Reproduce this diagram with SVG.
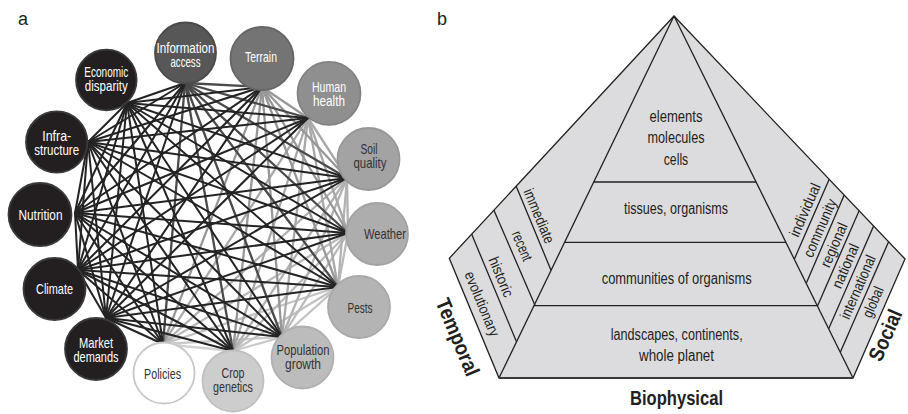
<svg xmlns="http://www.w3.org/2000/svg" width="908" height="414" viewBox="0 0 908 414">
<style>
text{font-family:"Liberation Sans",Arial,sans-serif;}
.pl{font-size:18px;fill:#231f20;}
.nl{font-size:14.5px;text-anchor:middle;}
.w{fill:#ffffff;}
.d{fill:#333333;}
.node{stroke-width:1.8;}
#connectors line{stroke-width:2.3;stroke-linecap:round;}
.c8{stroke:#d2d2d2;}.c7{stroke:#cacaca;}.c6{stroke:#c2c2c2;}.c5{stroke:#bababa;}
.c4{stroke:#b2b2b2;}.c3{stroke:#a8a8a8;}.c2{stroke:#979797;}.c1{stroke:#4a4a4a;}.c0{stroke:#232323;}
#connectors line.c0{stroke-width:2;}
.edge{stroke:#231f20;stroke-width:1.3;fill:none;}
.lab{font-size:15px;fill:#231f20;text-anchor:middle;}
.in{font-size:16px;fill:#231f20;text-anchor:middle;}
.big{font-size:21px;font-weight:bold;fill:#231f20;text-anchor:middle;}
</style>
<rect width="908" height="414" fill="#ffffff"/>
<text class="pl" x="18" y="25">a</text>
<text class="pl" x="437" y="25">b</text>

<g id="connectors">
<line class="c8" x1="233" y1="351" x2="163" y2="344"/>
<line class="c7" x1="282" y1="337" x2="233" y2="351"/>
<line class="c7" x1="282" y1="337" x2="163" y2="344"/>
<line class="c6" x1="338" y1="287" x2="282" y2="337"/>
<line class="c6" x1="338" y1="287" x2="233" y2="351"/>
<line class="c6" x1="338" y1="287" x2="163" y2="344"/>
<line class="c5" x1="348" y1="233" x2="338" y2="287"/>
<line class="c5" x1="348" y1="233" x2="282" y2="337"/>
<line class="c5" x1="348" y1="233" x2="233" y2="351"/>
<line class="c5" x1="348" y1="233" x2="163" y2="344"/>
<line class="c4" x1="347" y1="178" x2="348" y2="233"/>
<line class="c4" x1="347" y1="178" x2="338" y2="287"/>
<line class="c4" x1="347" y1="178" x2="282" y2="337"/>
<line class="c4" x1="347" y1="178" x2="233" y2="351"/>
<line class="c4" x1="347" y1="178" x2="163" y2="344"/>
<line class="c3" x1="308" y1="118" x2="347" y2="178"/>
<line class="c3" x1="308" y1="118" x2="348" y2="233"/>
<line class="c3" x1="308" y1="118" x2="338" y2="287"/>
<line class="c3" x1="308" y1="118" x2="282" y2="337"/>
<line class="c3" x1="308" y1="118" x2="233" y2="351"/>
<line class="c3" x1="308" y1="118" x2="163" y2="344"/>
<line class="c2" x1="262" y1="87" x2="308" y2="118"/>
<line class="c2" x1="262" y1="87" x2="347" y2="178"/>
<line class="c2" x1="262" y1="87" x2="348" y2="233"/>
<line class="c2" x1="262" y1="87" x2="338" y2="287"/>
<line class="c2" x1="262" y1="87" x2="282" y2="337"/>
<line class="c2" x1="262" y1="87" x2="233" y2="351"/>
<line class="c2" x1="262" y1="87" x2="163" y2="344"/>
<line class="c1" x1="185" y1="83" x2="262" y2="87"/>
<line class="c1" x1="185" y1="83" x2="308" y2="118"/>
<line class="c1" x1="185" y1="83" x2="347" y2="178"/>
<line class="c1" x1="185" y1="83" x2="348" y2="233"/>
<line class="c1" x1="185" y1="83" x2="338" y2="287"/>
<line class="c1" x1="185" y1="83" x2="282" y2="337"/>
<line class="c1" x1="185" y1="83" x2="233" y2="351"/>
<line class="c1" x1="185" y1="83" x2="163" y2="344"/>
<line class="c0" x1="106" y1="318" x2="185" y2="83"/>
<line class="c0" x1="106" y1="318" x2="262" y2="87"/>
<line class="c0" x1="106" y1="318" x2="308" y2="118"/>
<line class="c0" x1="106" y1="318" x2="347" y2="178"/>
<line class="c0" x1="106" y1="318" x2="348" y2="233"/>
<line class="c0" x1="106" y1="318" x2="338" y2="287"/>
<line class="c0" x1="106" y1="318" x2="282" y2="337"/>
<line class="c0" x1="106" y1="318" x2="233" y2="351"/>
<line class="c0" x1="106" y1="318" x2="163" y2="344"/>
<line class="c0" x1="106" y1="318" x2="78" y2="270"/>
<line class="c0" x1="106" y1="318" x2="75" y2="213"/>
<line class="c0" x1="106" y1="318" x2="88" y2="142"/>
<line class="c0" x1="106" y1="318" x2="127" y2="103"/>
<line class="c0" x1="78" y1="270" x2="185" y2="83"/>
<line class="c0" x1="78" y1="270" x2="262" y2="87"/>
<line class="c0" x1="78" y1="270" x2="308" y2="118"/>
<line class="c0" x1="78" y1="270" x2="347" y2="178"/>
<line class="c0" x1="78" y1="270" x2="348" y2="233"/>
<line class="c0" x1="78" y1="270" x2="338" y2="287"/>
<line class="c0" x1="78" y1="270" x2="282" y2="337"/>
<line class="c0" x1="78" y1="270" x2="233" y2="351"/>
<line class="c0" x1="78" y1="270" x2="163" y2="344"/>
<line class="c0" x1="78" y1="270" x2="75" y2="213"/>
<line class="c0" x1="78" y1="270" x2="88" y2="142"/>
<line class="c0" x1="78" y1="270" x2="127" y2="103"/>
<line class="c0" x1="75" y1="213" x2="185" y2="83"/>
<line class="c0" x1="75" y1="213" x2="262" y2="87"/>
<line class="c0" x1="75" y1="213" x2="308" y2="118"/>
<line class="c0" x1="75" y1="213" x2="347" y2="178"/>
<line class="c0" x1="75" y1="213" x2="348" y2="233"/>
<line class="c0" x1="75" y1="213" x2="338" y2="287"/>
<line class="c0" x1="75" y1="213" x2="282" y2="337"/>
<line class="c0" x1="75" y1="213" x2="233" y2="351"/>
<line class="c0" x1="75" y1="213" x2="163" y2="344"/>
<line class="c0" x1="75" y1="213" x2="88" y2="142"/>
<line class="c0" x1="75" y1="213" x2="127" y2="103"/>
<line class="c0" x1="88" y1="142" x2="185" y2="83"/>
<line class="c0" x1="88" y1="142" x2="262" y2="87"/>
<line class="c0" x1="88" y1="142" x2="308" y2="118"/>
<line class="c0" x1="88" y1="142" x2="347" y2="178"/>
<line class="c0" x1="88" y1="142" x2="348" y2="233"/>
<line class="c0" x1="88" y1="142" x2="338" y2="287"/>
<line class="c0" x1="88" y1="142" x2="282" y2="337"/>
<line class="c0" x1="88" y1="142" x2="233" y2="351"/>
<line class="c0" x1="88" y1="142" x2="163" y2="344"/>
<line class="c0" x1="88" y1="142" x2="127" y2="103"/>
<line class="c0" x1="127" y1="103" x2="185" y2="83"/>
<line class="c0" x1="127" y1="103" x2="262" y2="87"/>
<line class="c0" x1="127" y1="103" x2="308" y2="118"/>
<line class="c0" x1="127" y1="103" x2="347" y2="178"/>
<line class="c0" x1="127" y1="103" x2="348" y2="233"/>
<line class="c0" x1="127" y1="103" x2="338" y2="287"/>
<line class="c0" x1="127" y1="103" x2="282" y2="337"/>
<line class="c0" x1="127" y1="103" x2="233" y2="351"/>
<line class="c0" x1="127" y1="103" x2="163" y2="344"/>
</g>

<g id="node-information-access"><circle class="node" cx="185.5" cy="53" r="30.5" fill="#575757" stroke="#4a4a4a"/><text class="nl w" x="185.5" y="53" textLength="58" lengthAdjust="spacingAndGlyphs">Information</text><text class="nl w" x="185.5" y="67" textLength="30" lengthAdjust="spacingAndGlyphs">access</text></g>
<g id="node-terrain"><circle class="node" cx="262" cy="58.5" r="31.5" fill="#747474" stroke="#666"/><text class="nl w" x="261" y="62" textLength="32" lengthAdjust="spacingAndGlyphs">Terrain</text></g>
<g id="node-human-health"><circle class="node" cx="329" cy="93.3" r="31.5" fill="#8f8f8f" stroke="#838383"/><text class="nl w" x="329" y="91.5" textLength="34" lengthAdjust="spacingAndGlyphs">Human</text><text class="nl w" x="329" y="105.5" textLength="32" lengthAdjust="spacingAndGlyphs">health</text></g>
<g id="node-soil-quality"><circle class="node" cx="368.5" cy="159" r="31" fill="#a3a3a3" stroke="#979797"/><text class="nl d" x="369" y="154" textLength="17" lengthAdjust="spacingAndGlyphs">Soil</text><text class="nl d" x="370" y="167.5" textLength="33" lengthAdjust="spacingAndGlyphs">quality</text></g>
<g id="node-weather"><circle class="node" cx="377" cy="234" r="31" fill="#adadad" stroke="#a2a2a2"/><text class="nl d" x="385" y="238.5" textLength="42" lengthAdjust="spacingAndGlyphs">Weather</text></g>
<g id="node-pests"><circle class="node" cx="359" cy="307" r="31" fill="#b4b4b4" stroke="#a9a9a9"/><text class="nl d" x="360" y="313" textLength="25" lengthAdjust="spacingAndGlyphs">Pests</text></g>
<g id="node-population-growth"><circle class="node" cx="302.5" cy="357.5" r="31" fill="#bcbcbc" stroke="#b0b0b0"/><text class="nl d" x="303" y="355" textLength="53" lengthAdjust="spacingAndGlyphs">Population</text><text class="nl d" x="303" y="368.5" textLength="36" lengthAdjust="spacingAndGlyphs">growth</text></g>
<g id="node-crop-genetics"><circle class="node" cx="233" cy="381" r="30.5" fill="#cdcdcd" stroke="#c0c0c0"/><text class="nl d" x="233" y="378" textLength="23" lengthAdjust="spacingAndGlyphs">Crop</text><text class="nl d" x="233" y="392" textLength="40" lengthAdjust="spacingAndGlyphs">genetics</text></g>
<g id="node-policies"><circle class="node" cx="164" cy="373" r="30.5" fill="#ffffff" stroke="#c8c8c8"/><text class="nl d" x="162.5" y="378.5" textLength="37" lengthAdjust="spacingAndGlyphs">Policies</text></g>
<g id="node-market-demands"><circle class="node" cx="96" cy="349" r="31" fill="#231f20" stroke="#3a3a3a"/><text class="nl w" x="96" y="347.5" textLength="34" lengthAdjust="spacingAndGlyphs">Market</text><text class="nl w" x="96" y="361.5" textLength="45" lengthAdjust="spacingAndGlyphs">demands</text></g>
<g id="node-climate"><circle class="node" cx="54.5" cy="289" r="31" fill="#231f20" stroke="#3a3a3a"/><text class="nl w" x="54.5" y="294" textLength="37" lengthAdjust="spacingAndGlyphs">Climate</text></g>
<g id="node-nutrition"><circle class="node" cx="40" cy="214.5" r="31.5" fill="#231f20" stroke="#3a3a3a"/><text class="nl w" x="40.5" y="219.5" textLength="44" lengthAdjust="spacingAndGlyphs">Nutrition</text></g>
<g id="node-infrastructure"><circle class="node" cx="56.7" cy="142" r="30.7" fill="#231f20" stroke="#3a3a3a"/><text class="nl w" x="56.7" y="140.5" textLength="29" lengthAdjust="spacingAndGlyphs">Infra-</text><text class="nl w" x="56.7" y="154.5" textLength="44.7" lengthAdjust="spacingAndGlyphs">structure</text></g>
<g id="node-economic-disparity"><circle class="node" cx="106.3" cy="80" r="30.3" fill="#231f20" stroke="#3a3a3a"/><text class="nl w" x="106.3" y="77" textLength="44" lengthAdjust="spacingAndGlyphs">Economic</text><text class="nl w" x="106.3" y="90.5" textLength="43" lengthAdjust="spacingAndGlyphs">disparity</text></g>

<g id="pyramid">
<polygon points="674,16 449.3,258.3 499,378 853,378 905,259" fill="#dcdcde" stroke="#231f20" stroke-width="1.3" stroke-linejoin="miter"/>
<line class="edge" x1="674" y1="16" x2="499" y2="378"/>
<line class="edge" x1="674" y1="16" x2="853" y2="378"/>
<line class="edge" x1="593.8" y1="182" x2="756.1" y2="182"/>
<line class="edge" x1="564.6" y1="242.3" x2="785.9" y2="242.3"/>
<line class="edge" x1="534" y1="305.7" x2="817.3" y2="305.7"/>
<line x1="499" y1="378" x2="853" y2="378" stroke="#3a3a3a" stroke-width="2"/>
<line class="edge" x1="516.1" y1="186" x2="551" y2="270.2"/>
<line class="edge" x1="493.8" y1="210" x2="535.3" y2="306"/>
<line class="edge" x1="471.6" y1="234" x2="516.6" y2="342"/>
<line class="edge" x1="829.2" y1="179.3" x2="794.3" y2="259.2"/>
<line class="edge" x1="844.2" y1="195" x2="806.5" y2="282.7"/>
<line class="edge" x1="859.1" y1="210.7" x2="817.5" y2="306.1"/>
<line class="edge" x1="873.6" y1="226" x2="828.7" y2="328.8"/>
<line class="edge" x1="888.6" y1="241.7" x2="840.3" y2="352.2"/>
</g>

<g id="biophysical-levels">
<text class="in" x="676" y="121.5" textLength="53" lengthAdjust="spacingAndGlyphs">elements</text>
<text class="in" x="676" y="143.3" textLength="57" lengthAdjust="spacingAndGlyphs">molecules</text>
<text class="in" x="676" y="165" textLength="24.5" lengthAdjust="spacingAndGlyphs">cells</text>
<text class="in" x="676" y="214" textLength="104" lengthAdjust="spacingAndGlyphs">tissues, organisms</text>
<text class="in" x="676.7" y="283.5" textLength="150" lengthAdjust="spacingAndGlyphs">communities of organisms</text>
<text class="in" x="676.7" y="340" textLength="132" lengthAdjust="spacingAndGlyphs">landscapes, continents,</text>
<text class="in" x="676.5" y="361" textLength="75" lengthAdjust="spacingAndGlyphs">whole planet</text>
<text class="big" x="676.5" y="404.5" textLength="93" lengthAdjust="spacingAndGlyphs">Biophysical</text>
</g>

<g id="temporal-levels">
<text class="lab" transform="translate(539,216) rotate(67.4)" y="5" textLength="58" lengthAdjust="spacingAndGlyphs">immediate</text>
<text class="lab" transform="translate(522,246) rotate(67.4)" y="5" textLength="31" lengthAdjust="spacingAndGlyphs">recent</text>
<text class="lab" transform="translate(501,277) rotate(67.4)" y="5" textLength="42" lengthAdjust="spacingAndGlyphs">historic</text>
<text class="lab" transform="translate(482,304) rotate(67.4)" y="5" textLength="69" lengthAdjust="spacingAndGlyphs">evolutionary</text>
<text class="big" transform="translate(458,337) rotate(67.4)" y="7.5" textLength="82" lengthAdjust="spacingAndGlyphs">Temporal</text>
</g>

<g id="social-levels">
<text class="lab" transform="translate(805,210) rotate(-66.4)" y="5" textLength="57" lengthAdjust="spacingAndGlyphs">individual</text>
<text class="lab" transform="translate(820,228) rotate(-66.4)" y="5" textLength="62" lengthAdjust="spacingAndGlyphs">community</text>
<text class="lab" transform="translate(834,245) rotate(-66.4)" y="5" textLength="47" lengthAdjust="spacingAndGlyphs">regional</text>
<text class="lab" transform="translate(845.5,266) rotate(-66.4)" y="5" textLength="47" lengthAdjust="spacingAndGlyphs">national</text>
<text class="lab" transform="translate(858,287) rotate(-66.4)" y="5" textLength="68" lengthAdjust="spacingAndGlyphs">international</text>
<text class="lab" transform="translate(873,302) rotate(-66.4)" y="5" textLength="32" lengthAdjust="spacingAndGlyphs">global</text>
<text class="big" transform="translate(885,335) rotate(-66.4)" y="7.5" textLength="54" lengthAdjust="spacingAndGlyphs">Social</text>
</g>
</svg>
